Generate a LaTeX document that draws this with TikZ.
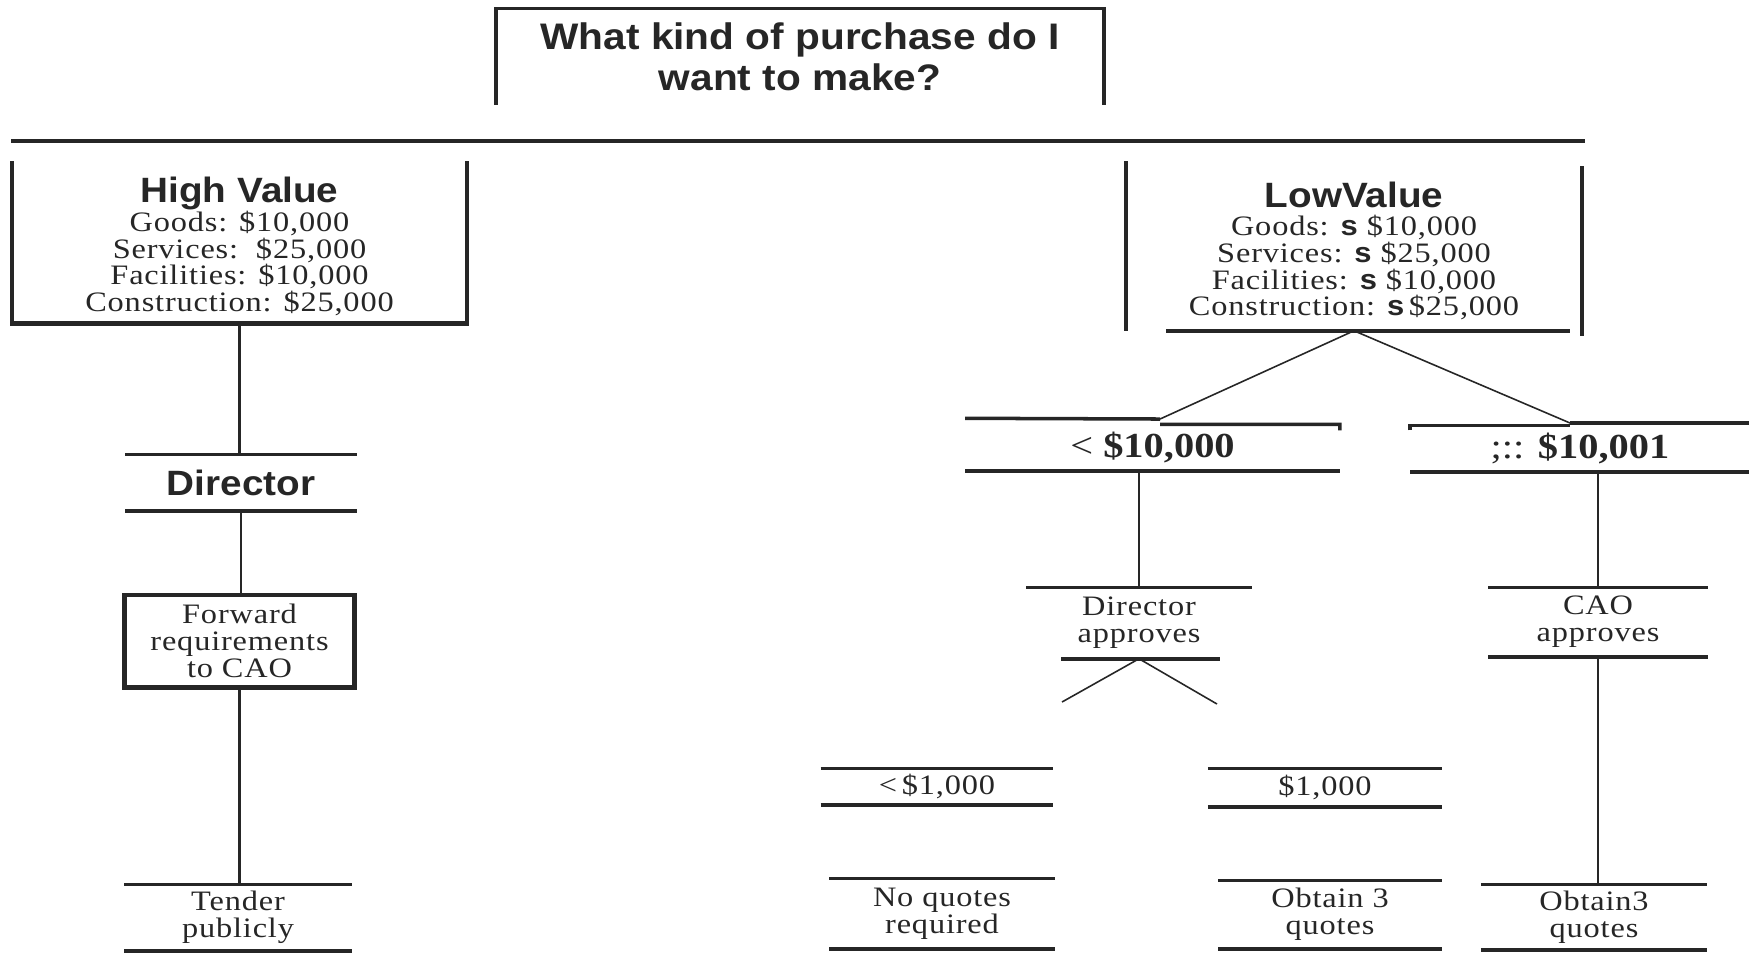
\documentclass[tikz,border=0pt]{standalone}
\usepackage{fontspec}
\setmainfont{Liberation Serif}
\newfontfamily\headfont[FakeStretch=1.1]{Liberation Sans}
\newfontfamily\bodyfont[FakeStretch=1.15,LetterSpace=3]{Liberation Serif}
\newfontfamily\sumfont[FakeStretch=1.15]{Liberation Serif}
\newcommand\bodysize{\bodyfont\fontsize{8}{7.6}\selectfont}
\newcommand\headsize{\headfont\bfseries\fontsize{10}{12}\selectfont}
\newcommand\sumsize{\sumfont\fontsize{10}{11}\selectfont}
\newcommand\lesssign{{\headfont\bfseries\fontsize{8}{7.6}\selectfont s}}
\colorlet{ink}{black!85}

\begin{document}
\begin{tikzpicture}[x=0.01cm, y=-0.01cm,
  tag/.style={inner sep=0pt, align=center, text=ink, font=\bodysize},
  head/.style={font=\headsize},
  bar/.style={draw=ink, line width=1pt},
  frame/.style={draw=ink, line width=1.3pt},
  link/.style={draw=ink, line width=.6pt},
  twig/.style={draw=ink, line width=.45pt}]

\useasboundingbox (0,0) rectangle (1749,953);

% question
\node[tag, font=\headfont\bfseries\fontsize{10.5}{11.7}\selectfont,
  minimum width=6.06cm, minimum height=.95cm] (q) at (800,56.5)
  {What kind of purchase do I\\want to make?};
\draw[bar] (q.south west) -- (q.north west) -- (q.north east) -- (q.south east);
\draw[bar, line width=1.2pt] (11,141) -- (1585,141);

% high value branch
\node[tag, minimum width=4.53cm, minimum height=1.61cm] (hv) at (239.5,246.5)
  {{\headsize High Value}\\[-.7pt]
   Goods: \$10,000\\Services:\ \ \$25,000\\Facilities: \$10,000\\Construction: \$25,000};
\draw[frame] ([yshift=.4mm]hv.north west) -- ([yshift=.4mm]hv.south west)
  -- ([yshift=.4mm]hv.south east) -- ([yshift=.4mm]hv.north east);

\node[tag, head, minimum width=2.3cm, minimum height=.55cm] (dir) at (241,482.5) {Director};
\node[tag, draw=ink, line width=1.4pt, minimum width=2.29cm, minimum height=.92cm]
  (fwd) at (239.5,641) {Forward\\requirements\\to CAO};
\node[tag, minimum width=2.26cm, minimum height=.65cm] (tp) at (238,917.5) {Tender\\publicly};

\draw[link] ([yshift=.4mm]hv.south) -- (hv.south |- dir.north);
\draw[link] (dir.south) -- (dir.south |- fwd.north);
\draw[link] (fwd.south) -- (fwd.south |- tp.north);

% low value branch
\node[tag, minimum width=4.54cm, minimum height=1.68cm] (lv) at (1354,251)
  {{\headsize LowValue}\\[.5pt]
   Goods: \lesssign{} \$10,000\\Services: \lesssign{} \$25,000\\
   Facilities: \lesssign{} \$10,000\\Construction: \lesssign\,\$25,000};
\draw[frame] ([yshift=.5mm]lv.north west) -- ([yshift=.5mm]lv.south west)
  (lv.north east) -- (lv.south east);
\draw[bar] ([shift={(4mm,.5mm)}]lv.south west) -- ([shift={(-1.2mm,.5mm)}]lv.south east);

\node[tag, font=\sumsize, minimum width=3.73cm, minimum height=.45cm] (lt) at (1152.5,447.5)
  {< \textbf{\$10,000}};
\node[tag, font=\sumsize, minimum width=3.38cm, minimum height=.45cm] (ge) at (1580,448.5)
  {;:: \textbf{\$10,001}};
\coordinate (lt-in) at (1160,419);
\coordinate (ge-in) at (1570,423);
\draw[bar] ([yshift=.6mm]lt.north west) -- (lt-in) (lt-in |- lt.north) -- (lt.north east) -- ++(0,6);
\draw[bar] ([yshift=-.5mm]ge.north west) -- (ge.north west) -- (ge.north west -| ge-in)
  (ge-in) -- (ge-in -| ge.north east);
\draw[bar] (lt.south west) -- (lt.south east) (ge.south west) -- (ge.south east);
\draw[twig] (lt-in) -- ([yshift=.5mm]lv.south) -- (ge-in);

\node[tag, minimum width=2.24cm, minimum height=.7cm] (dap) at (1139,623) {Director\\approves};
\node[tag, minimum width=2.18cm, minimum height=.68cm] (cap) at (1598,622) {CAO\\approves};
\draw[bar] (dap.north west) -- (dap.north east) ([xshift=3.5mm]dap.south west) -- ([xshift=-3.2mm]dap.south east);
\draw[link] (lt.south -| dap.north) -- (dap.north);
\draw[link] (ge.south -| cap.north) -- (cap.north);
\coordinate (dap-l) at (1062,702);
\coordinate (dap-r) at (1217,704);
\draw[twig] (dap-l) -- (dap.south) -- (dap-r);

\node[tag, minimum width=2.31cm, minimum height=.35cm] (lt1) at (937,786.5) {<\,\$1,000};
\node[tag, minimum width=2.33cm, minimum height=.37cm] (one) at (1325,787.5) {\$1,000};
\node[tag, minimum width=2.24cm, minimum height=.69cm] (nq) at (942,913.5) {No quotes\\required};
\node[tag, minimum width=2.22cm, minimum height=.67cm] (o3) at (1330,914.5) {Obtain 3\\quotes};
\node[tag, minimum width=2.25cm, minimum height=.64cm] (o3b) at (1594,917) {Obtain3\\quotes};
\draw[link] (cap.south) -- (cap.south |- o3b.north);

\foreach \n in {dir,tp,cap,lt1,one,nq,o3,o3b}
  \draw[bar] (\n.north west) -- (\n.north east) (\n.south west) -- (\n.south east);
\end{tikzpicture}
\end{document}
